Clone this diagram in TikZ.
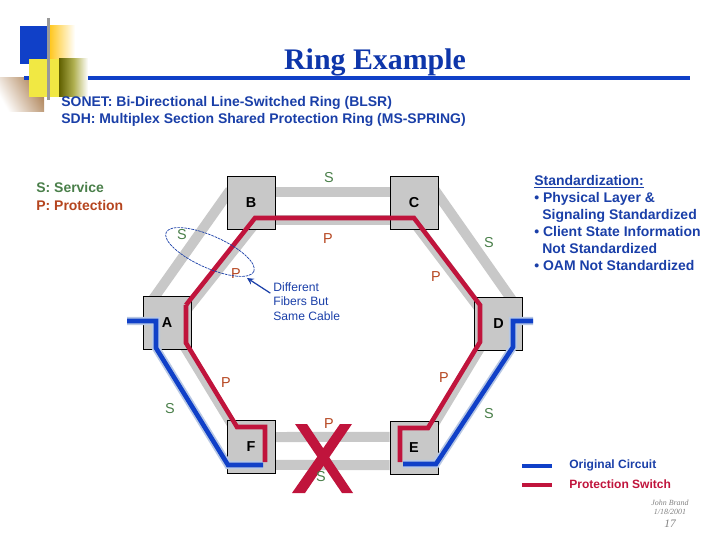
\documentclass[tikz,border=0pt]{standalone}
\usepackage{fontspec}
\setmainfont{Liberation Sans}
\newfontfamily\serifname{Liberation Serif}
\usetikzlibrary{backgrounds}
\definecolor{ringblue}{HTML}{1040C8}
\definecolor{ringred}{HTML}{C0143C}
\definecolor{txtblue}{HTML}{1A3FA8}
\definecolor{txtgreen}{HTML}{4A7F4A}
\definecolor{txtbrown}{HTML}{B5451F}
\definecolor{cablegrey}{HTML}{C8C8C8}
\definecolor{haloblue}{HTML}{B8C8E4}
\tikzset{
  boxnode/.style={draw=black,line width=0.5pt,fill=cablegrey,inner sep=0pt,minimum width=27.3pt,minimum height=30.2pt,font=\bfseries\fontsize{8.2}{10}\selectfont},
  cable/.style={draw=cablegrey,line width=5.7pt},
  halo/.style={draw=haloblue,line width=4.6pt},
  redline/.style={draw=ringred,line width=2.6pt},
  blueline/.style={draw=ringblue,line width=2.6pt},
  slabel/.style={text=txtgreen,inner sep=0pt,font=\fontsize{8.2}{10}\selectfont},
  plabel/.style={text=txtbrown,inner sep=0pt,font=\fontsize{8.2}{10}\selectfont},
  headtxt/.style={anchor=west,inner sep=0pt,text=txtblue,font=\bfseries\fontsize{7.95}{9}\selectfont},
  smalltxt/.style={anchor=west,inner sep=0pt,text=txtblue,font=\fontsize{6.9}{8}\selectfont},
  legendtxt/.style={anchor=west,inner sep=0pt,font=\bfseries\fontsize{6.85}{8}\selectfont},
  foottxt/.style={inner sep=0pt,text=gray,font=\serifname\itshape\fontsize{4.5}{5}\selectfont},
}
\begin{document}
\begin{tikzpicture}[x=0.02cm,y=-0.02cm]
\useasboundingbox (0,0) rectangle (720,540);
% corner decoration
\shade[left color=brown!70!gray,right color=white,shading angle=-60] (0,78) rectangle (44,112);
\fill[ringblue] (20,26) rectangle (47,64);
\shade[left color=orange!50!yellow!90!white,right color=white] (49,26) rectangle (75,60);
\fill[yellow!85!gray!85!white] (29,59) rectangle (59,97);
\shade[left color=olive!75!black,right color=white] (59,59) rectangle (88,97);
\fill[ringblue] (24,76) rectangle (29,80);
\fill[gray!80] (47,18) rectangle (50,100);
% title
\node[inner sep=0pt,text=ringblue!85!black,font=\serifname\bfseries\fontsize{17}{20}\selectfont] (title) at (375,62) {Ring Example};
\coordinate (ruleL) at (88,78);
\coordinate (ruleR) at (690,78);
\draw[ringblue,line width=2.3pt] (ruleL) -- (ruleR);
\node[headtxt] (sonet) at (61,103) {SONET: Bi-Directional Line-Switched Ring (BLSR)};
\node[headtxt] (sdh) at (61,120) {SDH: Multiplex Section Shared Protection Ring (MS-SPRING)};
\node[headtxt,text=txtgreen] (service) at (36,188) {S: Service};
\node[headtxt,text=txtbrown] (protect) at (36,206) {P: Protection};
% nodes
\node[boxnode] (B) at (251,202.5) {B};
\node[boxnode] (C) at (414,202.5) {C};
\node[boxnode] (D) at (498.5,324) {D};
\node[boxnode] (A) at (167,322.5) {A};
\node[boxnode] (F) at (251,446.5) {F};
\node[boxnode] (E) at (414,447.5) {E};
% bends of the circuits
\coordinate (rB) at (255,218);
\coordinate (rC) at (414,218);
\coordinate (rD1) at (480,305);
\coordinate (rD2) at (480,342);
\coordinate (rE1) at (428,428);
\coordinate (rE2) at (400,428);
\coordinate (rE3) at (400,462);
\coordinate (rA1) at (186,305);
\coordinate (rA2) at (186,343);
\coordinate (rF1) at (237,427);
\coordinate (rF2) at (265,427);
\coordinate (rF3) at (265,462);
\coordinate (bA0) at (127,321);
\coordinate (bA1) at (156,321);
\coordinate (bA2) at (156,348);
\coordinate (bF1) at (228,465);
\coordinate (bF2) at (263,465);
\coordinate (bE1) at (403,464);
\coordinate (bE2) at (436,464);
\coordinate (bD2) at (513,347);
\coordinate (bD1) at (513,321);
\coordinate (bD0) at (533,321);
% fibers
\begin{scope}[on background layer]
\draw[cable] ([yshift=6pt]B.east) -- ([yshift=6pt]C.west);
\draw[cable] ([yshift=-10.2pt]B.east) -- ([yshift=-10.2pt]C.west);
\draw[cable] ([yshift=5.4pt]F.east) -- ([yshift=6pt]E.west);
\draw[cable] ([yshift=-10.5pt]F.east) -- ([yshift=-10pt]E.west);
\draw[cable] ([xshift=2pt,yshift=7pt]B.west) -- ([xshift=6pt,yshift=-2pt]A.north west);
\draw[cable] ([shift={(2,3)}]rB) -- ([shift={(2,3)}]rA1);
\draw[cable] ([xshift=-2pt,yshift=7pt]C.east) -- ([xshift=-6pt,yshift=-2pt]D.north east);
\draw[cable] ([shift={(-1,3)}]rC) -- ([shift={(-1,3)}]rD1);
\draw[cable] ([shift={(-3,1)}]rA2) -- ([shift={(-3,1)}]rF1);
\draw[cable] ([shift={(3,1)}]rE1) -- ([shift={(3,1)}]rD2);
\end{scope}
\draw[halo] (bA0) -- (bA1) -- (bA2) -- (bF1) -- (bF2);
\draw[halo] (bE1) -- (bE2) -- (bD2) -- (bD1) -- (bD0);
\draw[redline] (rA1) -- (rB) -- (rC) -- (rD1) -- (rD2) -- (rE1) -- (rE2) -- (rE3);
\draw[redline] (rA1) -- (rA2) -- (rF1) -- (rF2) -- (rF3);
\draw[blueline] (bA0) -- (bA1) -- (bA2) -- (bF1) -- (bF2);
\draw[blueline] (bE1) -- (bE2) -- (bD2) -- (bD1) -- (bD0);
% failure mark
\fill[ringred] (295,424) -- (307,424) -- (353,493) -- (342,493) -- cycle;
\fill[ringred] (340,424) -- (352,424) -- (305,493) -- (292,493) -- cycle;
% labels
\node[slabel] (s1) at (329,178) {S};
\node[slabel] (s2) at (182,235) {S};
\node[slabel] (s3) at (489,243) {S};
\node[slabel] (s4) at (170,409) {S};
\node[slabel] (s5) at (489,414) {S};
\node[slabel] (s6) at (321,477) {S};
\node[plabel] (p1) at (328,239) {P};
\node[plabel] (p2) at (236,274) {P};
\node[plabel] (p3) at (436,277) {P};
\node[plabel] (p4) at (226,383) {P};
\node[plabel] (p5) at (444,378) {P};
\node[plabel] (p6) at (329,424) {P};
% cable loop and its note
\draw[txtblue,line width=0.4pt,dash pattern=on 1.5pt off 0.5pt,rotate around={-24:(210,252)}] (210,252) ellipse [x radius=48,y radius=16];
\coordinate (loopEnd) at (247,278);
\node[smalltxt] (diff1) at (273,287) {Different};
\node[smalltxt] (diff2) at (273,301) {Fibers But};
\node[smalltxt] (diff3) at (273,316) {Same Cable};
\draw[-stealth,txtblue,line width=0.7pt] ([xshift=-1.5pt,yshift=-3.5pt]diff1.west) -- (loopEnd);
% standardization
\node[headtxt] (std1) at (534,182) {\underline{Standardization:}};
\node[headtxt] (std2) at (534,199) {• Physical Layer \&};
\node[headtxt] (std3) at (542,216) {Signaling Standardized};
\node[headtxt] (std4) at (534,232) {• Client State Information};
\node[headtxt] (std5) at (542,249) {Not Standardized};
\node[headtxt] (std6) at (534,266) {• OAM Not Standardized};
% legend
\coordinate (legB0) at (522,466);
\coordinate (legB1) at (552,466);
\coordinate (legR0) at (522,485);
\coordinate (legR1) at (552,485);
\draw[blueline] (legB0) -- (legB1);
\draw[redline] (legR0) -- (legR1);
\node[legendtxt,text=txtblue] (orig) at (569,465) {Original Circuit};
\node[legendtxt,text=ringred] (prot) at (569,484) {Protection Switch};
% footer
\node[foottxt] (foot1) at (670,502.5) {John Brand};
\node[foottxt] (foot2) at (670,511.5) {1/18/2001};
\node[foottxt,font=\serifname\itshape\fontsize{6.5}{8}\selectfont] (foot3) at (670,523.5) {17};
\end{tikzpicture}
\end{document}
